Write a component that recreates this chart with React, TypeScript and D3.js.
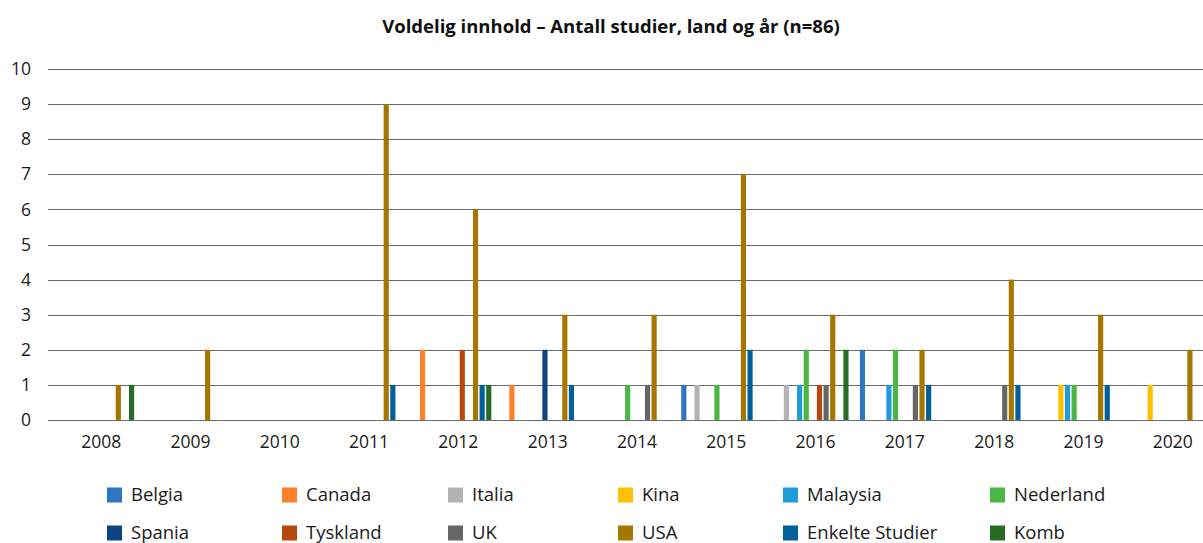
import { useRef, useEffect } from 'react';
import * as d3 from 'd3';

const years = ['2008', '2009', '2010', '2011', '2012', '2013', '2014', '2015', '2016', '2017', '2018', '2019', '2020'];
const seriesNames = ['Belgia', 'Canada', 'Italia', 'Kina', 'Malaysia', 'Nederland', 'Spania', 'Tyskland', 'UK', 'USA', 'Enkelte Studier', 'Komb'];
const colors = ['#2E75C2', '#FF7F2A', '#B3B3B3', '#FFC000', '#1E9BD9', '#4CB644', '#0B4483', '#B7490F', '#666666', '#A67700', '#006099', '#276B26'];

// values per series, one per year (2008..2020)
const belgia = [0, 0, 0, 0, 0, 0, 0, 1, 0, 2, 0, 0, 0];
const canada = [0, 0, 0, 0, 2, 1, 0, 0, 0, 0, 0, 0, 0];
const italia = [0, 0, 0, 0, 0, 0, 0, 1, 1, 0, 0, 0, 0];
const kina = [0, 0, 0, 0, 0, 0, 0, 0, 0, 0, 0, 1, 1];
const malaysia = [0, 0, 0, 0, 0, 0, 0, 0, 1, 1, 0, 1, 0];
const nederland = [0, 0, 0, 0, 0, 0, 1, 1, 2, 2, 0, 1, 0];
const spania = [0, 0, 0, 0, 0, 2, 0, 0, 0, 0, 0, 0, 0];
const tyskland = [0, 0, 0, 0, 2, 0, 0, 0, 1, 0, 0, 0, 0];
const uk = [0, 0, 0, 0, 0, 0, 1, 0, 1, 1, 1, 0, 0];
const usa = [1, 2, 0, 9, 6, 3, 3, 7, 3, 2, 4, 3, 2];
const enkelte = [0, 0, 0, 1, 1, 1, 0, 2, 0, 1, 1, 1, 0];
const komb = [1, 0, 0, 0, 1, 0, 0, 0, 2, 0, 0, 0, 0];

const seriesValues = [belgia, canada, italia, kina, malaysia, nederland, spania, tyskland, uk, usa, enkelte, komb];
const yTicks = [0, 1, 2, 3, 4, 5, 6, 7, 8, 9, 10];

const FONT = '"Open Sans", sans-serif';

const App = () => {
  const svgRef = useRef<SVGSVGElement>(null);

  useEffect(() => {
    const svg = d3.select(svgRef.current);
    svg.selectAll('*').remove();

    const width = 1203;
    const gridLeft = 48;
    const top = 69;
    const bottom = 420;

    const x = d3.scaleBand<string>()
      .domain(years)
      .range([50.5, 50.5 + 89.3 * years.length]);

    const xInner = d3.scaleBand<string>()
      .domain(seriesNames)
      .range([0, 12 * 6.5])
      .paddingInner(0.22);

    const groupOffset = (x.bandwidth() - 12 * 6.5) / 2;

    const y = d3.scaleLinear().domain([0, 10]).range([bottom, top]);

    svg.append('text')
      .attr('x', 611)
      .attr('y', 33)
      .attr('text-anchor', 'middle')
      .attr('font-family', FONT)
      .attr('font-weight', 'bold')
      .attr('font-size', 18.5)
      .attr('fill', '#111')
      .text('Voldelig innhold – Antall studier, land og år (n=86)');

    const grid = svg.append('g');
    grid.selectAll('line')
      .data(yTicks)
      .join('line')
      .attr('x1', gridLeft)
      .attr('x2', width)
      .attr('y1', d => Math.round(y(d)) + 0.5)
      .attr('y2', d => Math.round(y(d)) + 0.5)
      .attr('stroke', '#6a6a6a')
      .attr('stroke-width', 1.2);

    grid.selectAll('text')
      .data(yTicks)
      .join('text')
      .attr('x', 31)
      .attr('y', d => y(d))
      .attr('dy', '0.35em')
      .attr('text-anchor', 'end')
      .attr('font-family', FONT)
      .attr('font-size', 17.5)
      .attr('fill', '#1a1a1a')
      .text(d => d);

    const bars = svg.append('g');
    seriesValues.forEach((vals, si) => {
      bars.append('g')
        .selectAll('rect')
        .data(vals.map((v, i) => ({ year: years[i], v })).filter(d => d.v > 0))
        .join('rect')
        .attr('x', d => (x(d.year) ?? 0) + groupOffset + (xInner(seriesNames[si]) ?? 0))
        .attr('width', xInner.bandwidth())
        .attr('y', d => y(d.v))
        .attr('height', d => y(0) - y(d.v))
        .attr('fill', colors[si]);
    });

    svg.append('g')
      .selectAll('text')
      .data(years)
      .join('text')
      .attr('x', d => (x(d) ?? 0) + x.bandwidth() / 2 + 6)
      .attr('y', 448)
      .attr('text-anchor', 'middle')
      .attr('font-family', FONT)
      .attr('font-size', 17.5)
      .attr('fill', '#1a1a1a')
      .text(d => d);

    const legendCols = [107, 282, 448, 618, 783, 990];
    const legendRows = [495, 533];
    const legend = svg.append('g');
    seriesNames.forEach((name, i) => {
      const cx = legendCols[i % 6];
      const cy = legendRows[Math.floor(i / 6)];
      legend.append('rect')
        .attr('x', cx)
        .attr('y', cy - 7.5)
        .attr('width', 15)
        .attr('height', 15)
        .attr('fill', colors[i]);
      legend.append('text')
        .attr('x', cx + 24)
        .attr('y', cy)
        .attr('dy', '0.35em')
        .attr('font-family', FONT)
        .attr('font-size', 18.5)
        .attr('fill', '#1a1a1a')
        .text(name);
    });
  }, []);

  return <svg ref={svgRef} width="1203" height="543" style={{ position: 'absolute', left: 0, top: 0 }}></svg>;
};

export default App;
